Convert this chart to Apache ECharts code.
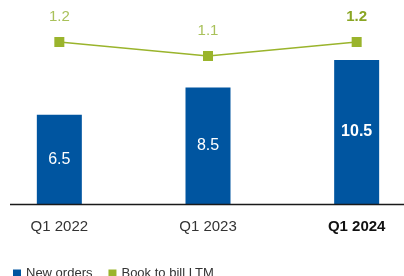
<!DOCTYPE html>
<html>
<head>
<meta charset="utf-8">
<script src="https://cdn.jsdelivr.net/npm/echarts@6/dist/echarts.min.js"></script>
<style>
  html, body { margin: 0; padding: 0; background: #fff; }
  #chart { width: 404px; height: 276px; }
</style>
</head>
<body>
<div id="chart"></div>
<script>
// data
var quarters = ['Q1 2022', 'Q1 2023', 'Q1 2024'];
var newOrders = [6.5, 8.5, 10.5];
var bookToBill = [1.2, 1.1, 1.2];

var blue = '#0055a0';
var green = '#9ab42c';
var font = '"Liberation Sans", Arial, sans-serif';

var chart = echarts.init(document.getElementById('chart'));

var option = {
    animation: false,
    textStyle: { fontFamily: font },
    // bands are wider than the page, so let the grid run past the edges
    grid: { left: -15, right: -27, top: 12, bottom: 72, outerBoundsMode: 'none', containLabel: false },
    legend: {
        left: 8,
        top: 262,
        itemWidth: 8,
        itemHeight: 8,
        itemGap: 16,
        icon: 'rect',
        textStyle: { fontSize: 13, color: '#333', fontFamily: font },
        data: [
            { name: 'New orders', itemStyle: { color: blue } },
            { name: 'Book to bill LTM', itemStyle: { color: green } }
        ]
    },
    xAxis: {
        type: 'category',
        data: quarters,
        axisLine: { show: false },
        axisTick: { show: false },
        axisLabel: {
            margin: 15,
            fontSize: 15,
            color: '#333',
            fontFamily: font,
            formatter: function (v) {
                return v === quarters[quarters.length - 1] ? '{b|' + v + '}' : v;
            },
            rich: { b: { fontWeight: 'bold', color: '#111', fontSize: 15, fontFamily: font } }
        }
    },
    yAxis: [
        { type: 'value', min: 0, max: 14, show: false },
        { type: 'value', min: 0.0428, max: 1.4143, show: false }
    ],
    graphic: [{
        type: 'line',
        shape: { x1: 10, y1: 204.5, x2: 404, y2: 204.5 },
        style: { stroke: '#1a1a1a', lineWidth: 1.3 },
        z: 10
    }],
    series: [
        {
            name: 'New orders',
            type: 'bar',
            barWidth: 45,
            itemStyle: { color: blue },
            data: newOrders.map(function (v, i) {
                return {
                    value: v,
                    label: i === newOrders.length - 1 ? { fontWeight: 'bold' } : {}
                };
            }),
            label: {
                show: true,
                position: 'inside',
                color: '#fff',
                fontSize: 16,
                fontFamily: font
            }
        },
        {
            name: 'Book to bill LTM',
            type: 'line',
            yAxisIndex: 1,
            symbol: 'rect',
            symbolSize: 10,
            lineStyle: { color: green, width: 1.5 },
            itemStyle: { color: green },
            data: bookToBill.map(function (v, i) {
                return {
                    value: v,
                    label: i === bookToBill.length - 1 ? { fontWeight: 'bold', color: '#8aa624' } : {}
                };
            }),
            label: {
                show: true,
                position: 'top',
                distance: 13,
                color: '#a9c15a',
                fontSize: 15,
                fontFamily: font
            }
        }
    ]
};

chart.setOption(option);
</script>
</body>
</html>
